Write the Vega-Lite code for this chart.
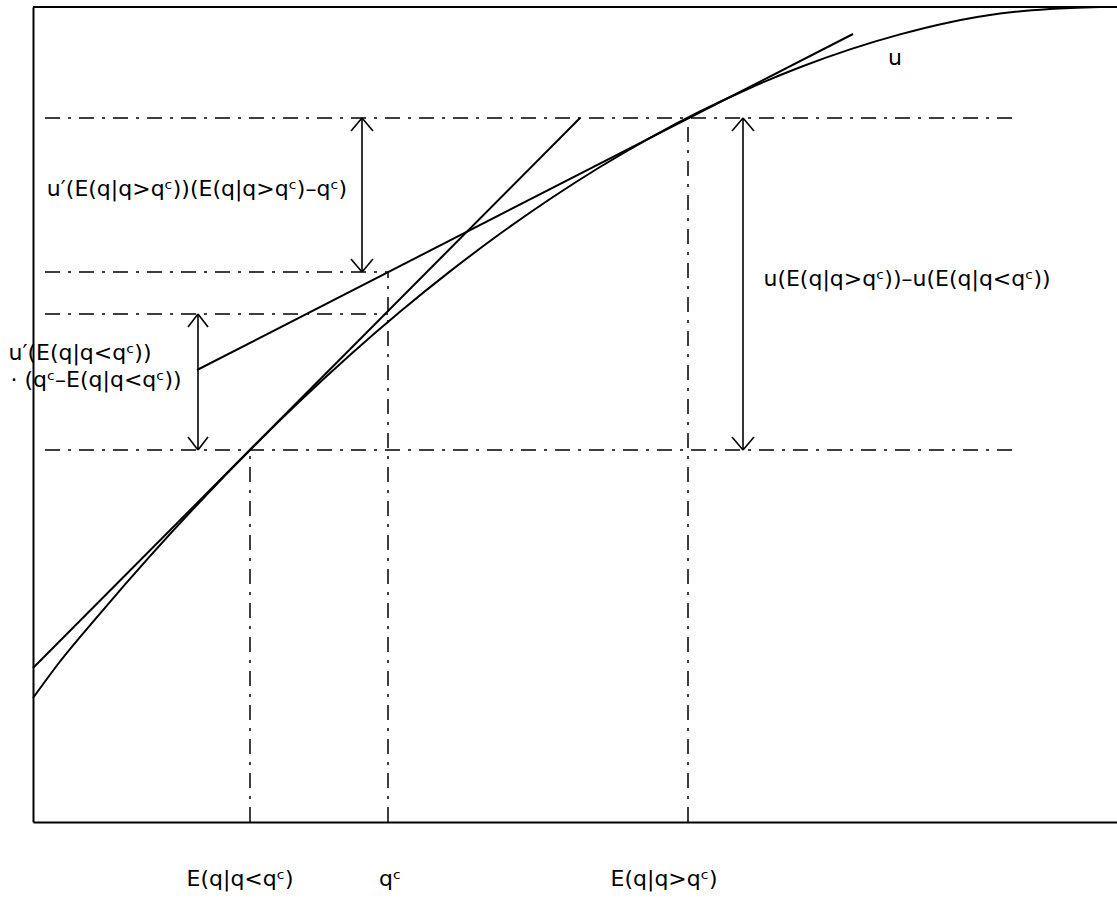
{
  "$schema": "https://vega.github.io/schema/vega-lite/v6.json",
  "width": 1084,
  "height": 815,
  "autosize": {"type": "none"},
  "padding": {"left": 33, "top": 7, "right": 0, "bottom": 100},
  "background": "white",
  "view": {"stroke": null},
  "config": {
    "axis": {"domain": true, "domainColor": "black", "domainWidth": 2, "ticks": false, "labels": false, "grid": false, "title": null}
  },
  "datasets": {
    "curve": [
      {"x": 0, "y": 124}, {"x": 27, "y": 160.5}, {"x": 67, "y": 208.4}, {"x": 117, "y": 265.8},
      {"x": 167, "y": 320.3}, {"x": 217, "y": 372}, {"x": 267, "y": 420.9}, {"x": 317, "y": 467},
      {"x": 367, "y": 510.2}, {"x": 417, "y": 550.6}, {"x": 467, "y": 588.2}, {"x": 517, "y": 623},
      {"x": 567, "y": 655}, {"x": 617, "y": 684.2}, {"x": 667, "y": 710.5}, {"x": 717, "y": 734},
      {"x": 767, "y": 754.7}, {"x": 817, "y": 772.6}, {"x": 867, "y": 787.6}, {"x": 917, "y": 799.8},
      {"x": 967, "y": 808.5}, {"x": 1017, "y": 813}, {"x": 1067, "y": 815}
    ],
    "solid": [
      {"x": 0, "y": 154, "x2": 547, "y2": 704},
      {"x": 164, "y": 452, "x2": 820, "y2": 788},
      {"x": 0, "y": 815, "x2": 1084, "y2": 815}
    ],
    "arrows": [
      {"x": 329, "y": 550, "x2": 329, "y2": 704},
      {"x": 165, "y": 372, "x2": 165, "y2": 508},
      {"x": 710, "y": 372, "x2": 710, "y2": 704},
      {"x": 318, "y": 691, "x2": 329, "y2": 704},
      {"x": 340, "y": 691, "x2": 329, "y2": 704},
      {"x": 318, "y": 563, "x2": 329, "y2": 550},
      {"x": 340, "y": 563, "x2": 329, "y2": 550},
      {"x": 155, "y": 495, "x2": 165, "y2": 508},
      {"x": 175, "y": 495, "x2": 165, "y2": 508},
      {"x": 155, "y": 385, "x2": 165, "y2": 372},
      {"x": 175, "y": 385, "x2": 165, "y2": 372},
      {"x": 699, "y": 691, "x2": 710, "y2": 704},
      {"x": 721, "y": 691, "x2": 710, "y2": 704},
      {"x": 699, "y": 385, "x2": 710, "y2": 372},
      {"x": 721, "y": 385, "x2": 710, "y2": 372}
    ],
    "dashdot": [
      {"x": 12, "y": 704, "x2": 984, "y2": 704},
      {"x": 12, "y": 550, "x2": 355, "y2": 550},
      {"x": 12, "y": 508, "x2": 355, "y2": 508},
      {"x": 12, "y": 372, "x2": 984, "y2": 372},
      {"x": 217, "y": 0, "x2": 217, "y2": 372},
      {"x": 355, "y": 0, "x2": 355, "y2": 550},
      {"x": 655, "y": 0, "x2": 655, "y2": 704}
    ],
    "labels": [
      {"x": 164, "y": 633, "text": "u′(E(q|q>qᶜ))(E(q|q>qᶜ)–qᶜ)"},
      {"x": 47, "y": 469, "text": "u′(E(q|q<qᶜ))"},
      {"x": 63, "y": 442, "text": "· (qᶜ–E(q|q<qᶜ))"},
      {"x": 874, "y": 543, "text": "u(E(q|q>qᶜ))–u(E(q|q<qᶜ))"},
      {"x": 862, "y": 764, "text": "u"},
      {"x": 207, "y": -57, "text": "E(q|q<qᶜ)"},
      {"x": 357, "y": -57, "text": "qᶜ"},
      {"x": 631, "y": -57, "text": "E(q|q>qᶜ)"}
    ]
  },
  "layer": [
    {
      "data": {"name": "dashdot"},
      "mark": {"type": "rule", "color": "black", "strokeWidth": 1.5, "strokeDash": [15, 8, 3, 8]},
      "encoding": {
        "x": {"field": "x", "type": "quantitative", "scale": {"domain": [0, 1084], "nice": false, "zero": false}},
        "y": {"field": "y", "type": "quantitative", "scale": {"domain": [0, 815], "nice": false, "zero": false}},
        "x2": {"field": "x2"},
        "y2": {"field": "y2"}
      }
    },
    {
      "data": {"name": "solid"},
      "mark": {"type": "rule", "color": "black", "strokeWidth": 2},
      "encoding": {
        "x": {"field": "x", "type": "quantitative"},
        "y": {"field": "y", "type": "quantitative"},
        "x2": {"field": "x2"},
        "y2": {"field": "y2"}
      }
    },
    {
      "data": {"name": "arrows"},
      "mark": {"type": "rule", "color": "black", "strokeWidth": 1.6},
      "encoding": {
        "x": {"field": "x", "type": "quantitative"},
        "y": {"field": "y", "type": "quantitative"},
        "x2": {"field": "x2"},
        "y2": {"field": "y2"}
      }
    },
    {
      "data": {"name": "curve"},
      "mark": {"type": "line", "color": "black", "strokeWidth": 2, "interpolate": "monotone"},
      "encoding": {
        "x": {"field": "x", "type": "quantitative"},
        "y": {"field": "y", "type": "quantitative"}
      }
    },
    {
      "data": {"name": "labels"},
      "mark": {"type": "text", "font": "DejaVu Sans", "fontSize": 22, "align": "center", "baseline": "middle", "color": "black"},
      "encoding": {
        "x": {"field": "x", "type": "quantitative"},
        "y": {"field": "y", "type": "quantitative"},
        "text": {"field": "text"}
      }
    }
  ]
}
